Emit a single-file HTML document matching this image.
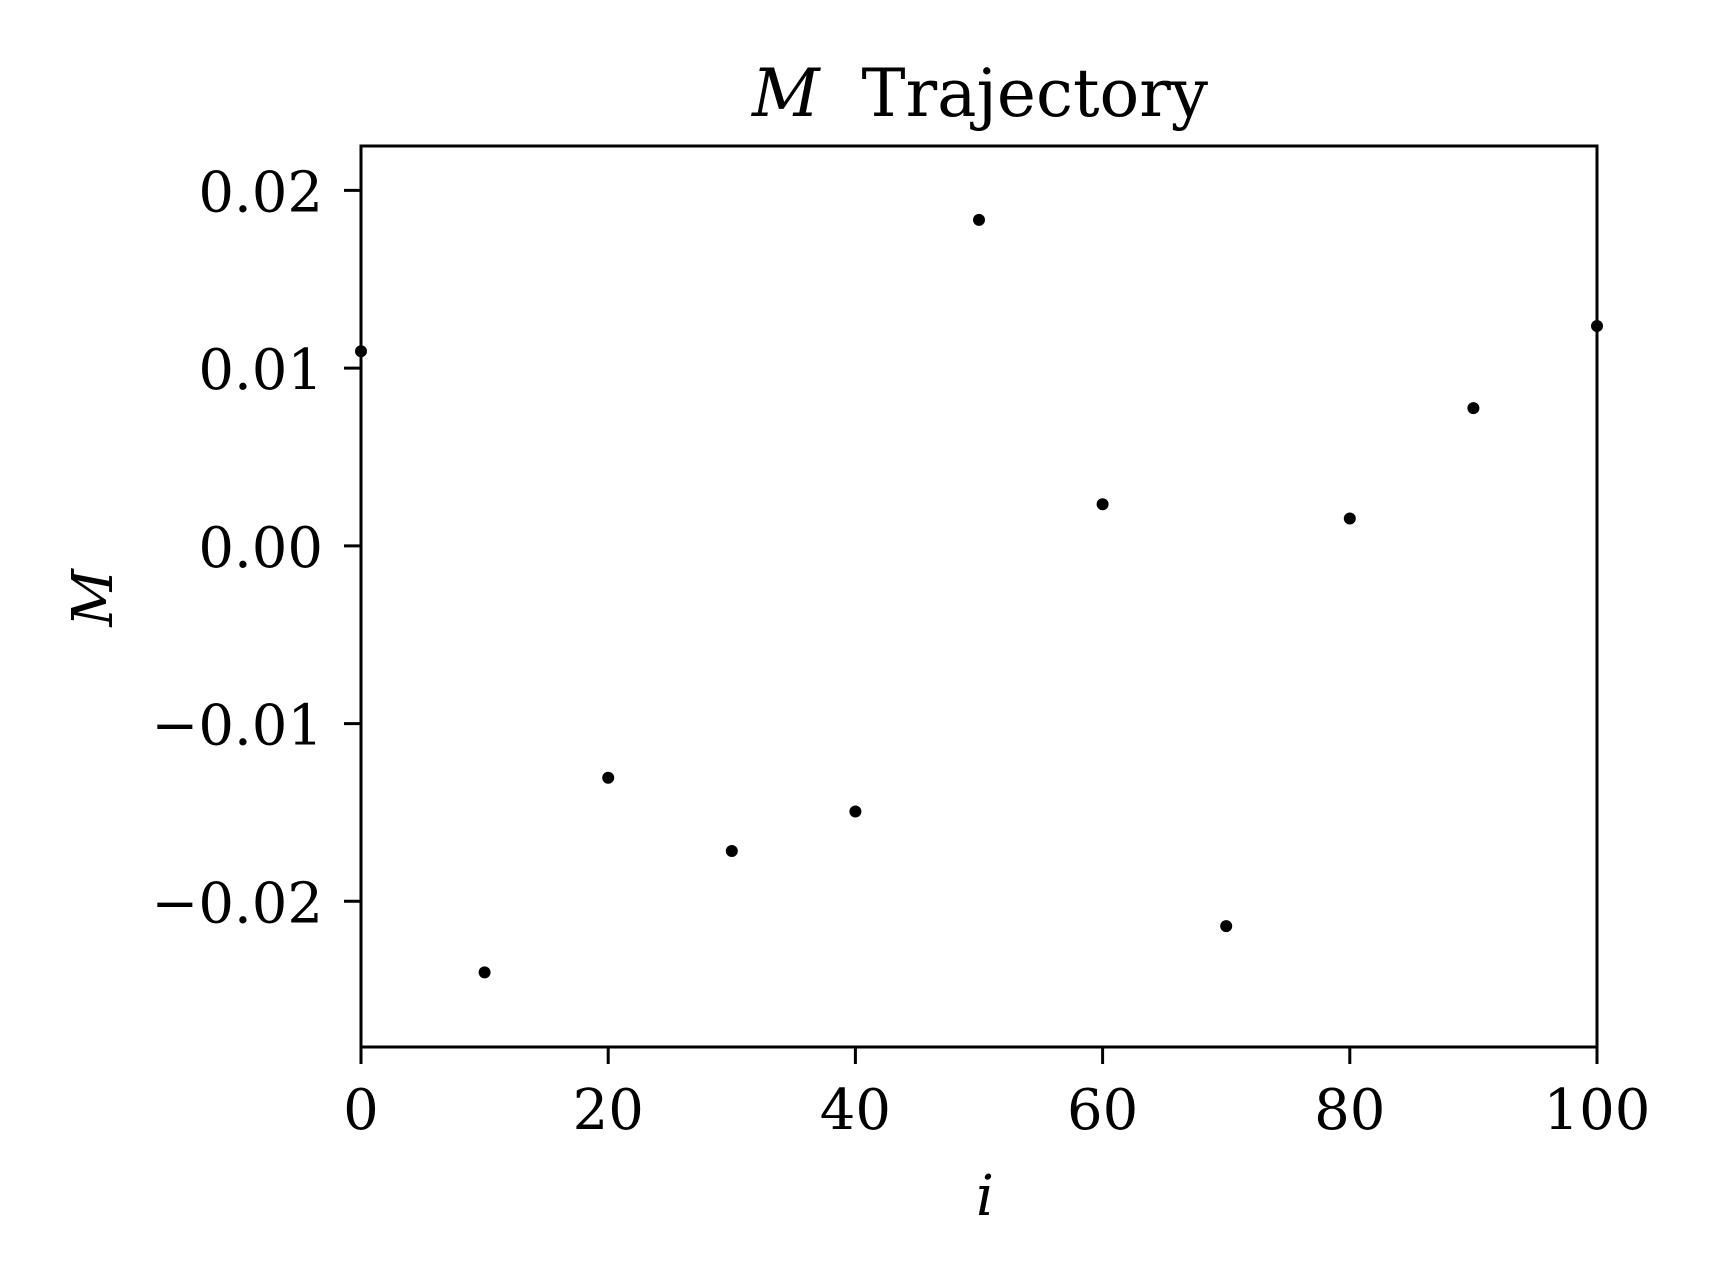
<!DOCTYPE html>
<html><head><meta charset="utf-8"><style>
html,body{margin:0;padding:0;background:#fff;}
svg{display:block;}
text{font-family:"DejaVu Serif","Liberation Serif",serif;fill:#000;}
</style></head><body>
<svg id="chart" width="1715" height="1286" viewBox="0 0 1715 1286" xmlns="http://www.w3.org/2000/svg">
<rect x="0" y="0" width="1715" height="1286" fill="#fff"/>
<g id="marks"></g>
<g id="axes"></g>
<text x="980" y="116" font-size="66" text-anchor="middle"><tspan font-style="italic">M</tspan><tspan dx="42">Trajectory</tspan></text>
<text x="985" y="1215" font-size="56" font-style="italic" text-anchor="middle">i</text>
<text x="0" y="0" font-size="56" font-style="italic" text-anchor="middle" transform="translate(112,598) rotate(-90)">M</text>
</svg>
<script>
const xValues = [0,10,20,30,40,50,60,70,80,90,100];
const yValues = [0.01095,-0.0240,-0.01305,-0.01717,-0.01495,0.01834,0.00234,-0.0214,0.00154,0.00775,0.01237];
const xTicks = [0,20,40,60,80,100];
const xTickLabels = ["0","20","40","60","80","100"];
const yTicks = [0.02,0.01,0,-0.01,-0.02];
const yTickLabels = ["0.02","0.01","0.00","\u22120.01","\u22120.02"];
const xMin=0,xMax=100,yMin=-0.0282,yMax=0.0225;
const L=361,R=1597,T=146,B=1047;
const NS="http://www.w3.org/2000/svg";
function sx(v){return L+(v-xMin)/(xMax-xMin)*(R-L);}
function sy(v){return B-(v-yMin)/(yMax-yMin)*(B-T);}
const marks=document.getElementById('marks');
const axes=document.getElementById('axes');
xValues.forEach((x,i)=>{
  const c=document.createElementNS(NS,'circle');
  c.setAttribute('cx',sx(x));c.setAttribute('cy',sy(yValues[i]));c.setAttribute('r',6);c.setAttribute('fill','#000');
  
  
  marks.appendChild(c);
});
const frame=document.createElementNS(NS,'rect');
frame.setAttribute('x',L);frame.setAttribute('y',T);frame.setAttribute('width',R-L);frame.setAttribute('height',B-T);
frame.setAttribute('fill','none');frame.setAttribute('stroke','#000');frame.setAttribute('stroke-width','3');


axes.appendChild(frame);
xTicks.forEach((t,i)=>{
  const l=document.createElementNS(NS,'line');
  l.setAttribute('x1',sx(t));l.setAttribute('x2',sx(t));l.setAttribute('y1',B);l.setAttribute('y2',B+17);
  l.setAttribute('stroke','#000');l.setAttribute('stroke-width','3');
  
  
  axes.appendChild(l);
  const tx=document.createElementNS(NS,'text');
  tx.setAttribute('x',sx(t));tx.setAttribute('y',B+82);tx.setAttribute('font-size','56');tx.setAttribute('text-anchor','middle');
  tx.textContent=xTickLabels[i];
  
  
  axes.appendChild(tx);
});
yTicks.forEach((t,i)=>{
  const l=document.createElementNS(NS,'line');
  l.setAttribute('x1',L-17);l.setAttribute('x2',L);l.setAttribute('y1',sy(t));l.setAttribute('y2',sy(t));
  l.setAttribute('stroke','#000');l.setAttribute('stroke-width','3');
  
  
  axes.appendChild(l);
  const tx=document.createElementNS(NS,'text');
  tx.setAttribute('x',L-38);tx.setAttribute('y',sy(t)+21);tx.setAttribute('font-size','56');tx.setAttribute('text-anchor','end');
  tx.textContent=yTickLabels[i];
  
  
  axes.appendChild(tx);
});
</script>
</body></html>
